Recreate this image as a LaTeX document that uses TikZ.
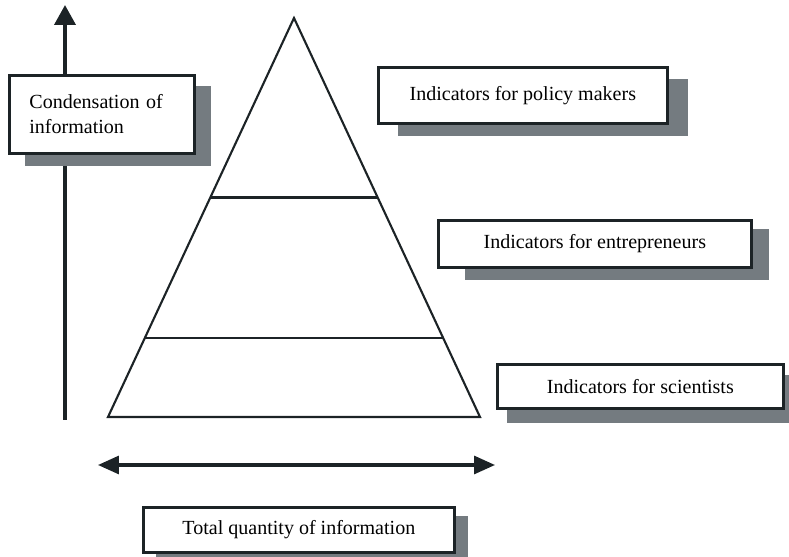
\documentclass[tikz,border=0pt]{standalone}
\usepackage{fontspec}
\setmainfont{Liberation Serif}
\usepackage{tikz}
\usetikzlibrary{arrows.meta,calc,backgrounds}
\definecolor{inkline}{HTML}{1C2326}
\definecolor{shadowgray}{HTML}{747B80}
\tikzstyle{infobox} = [draw=inkline, fill=white, line width=1.6pt,
    rectangle, inner sep=0pt, anchor=north west, font=\fontsize{11.4}{14.2}\selectfont]
\tikzstyle{boxshadow} = [fill=shadowgray]
\tikzstyle{pyramidline} = [draw=inkline, line width=1.2pt, line join=miter]
\tikzstyle{axisarrow} = [draw=inkline, line width=2.2pt]

\begin{document}
\begin{tikzpicture}[x=0.02cm, y=-0.02cm]
                \useasboundingbox (0,0) rectangle (789,557);
                % axes
                \coordinate (up0) at (65,420);
                \coordinate (up1) at (65,5);
                \coordinate (lr0) at (98,465);
                \coordinate (lr1) at (495,465);
                \begin{scope}[on background layer]
                    \draw[axisarrow, -{Triangle[length=0.4cm, width=0.42cm]}] (up0) -- (up1);
                \end{scope}
                \draw[axisarrow, line width=1.8pt, {Triangle[length=0.42cm, width=0.36cm]}-{Triangle[length=0.42cm, width=0.36cm]}] (lr0) -- (lr1);
                % pyramid
                \coordinate (apex) at (294,18);
                \coordinate (baseL) at (108,417);
                \coordinate (baseR) at (480,417);
                \draw[pyramidline] (apex) -- (baseL) -- (baseR) -- cycle;
                \draw[pyramidline, line width=1.7pt] ($(apex)!0.451!(baseL)$) -- ($(apex)!0.451!(baseR)$);
                \draw[pyramidline, line width=1.7pt] ($(apex)!0.802!(baseL)$) -- ($(apex)!0.802!(baseR)$);
                % boxes
                \node[infobox, minimum width=3.7cm, minimum height=1.56cm, align=left,
                      text width=3.7cm-0.8cm, inner xsep=0.4cm] (cond) at (8,74)
                      {Condensation of\\information};
                \node[infobox, minimum width=5.78cm, minimum height=1.12cm] (policy) at (377,66)
                      {Indicators for policy makers};
                \node[infobox, minimum width=6.26cm, minimum height=0.94cm] (entre) at (437,219)
                      {Indicators for entrepreneurs};
                \node[infobox, minimum width=5.72cm, minimum height=0.88cm] (scient) at (496,363)
                      {Indicators for scientists};
                \node[infobox, minimum width=6.22cm, minimum height=0.9cm] (total) at (142,506)
                      {Total quantity of information};
                \begin{scope}[on background layer]
                    \fill[boxshadow] ([shift={(17,12)}]cond.north west) rectangle ([shift={(15,11)}]cond.south east);
                    \fill[boxshadow] ([shift={(21,13)}]policy.north west) rectangle ([shift={(19,11)}]policy.south east);
                    \fill[boxshadow] ([shift={(28,10)}]entre.north west) rectangle ([shift={(16,11)}]entre.south east);
                    \fill[boxshadow] ([shift={(11,12)}]scient.north west) rectangle ([shift={(6,13)}]scient.south east);
                    \fill[boxshadow] ([shift={(14,10)}]total.north west) rectangle ([shift={(12,12)}]total.south east);
                \end{scope}
            \end{tikzpicture}
\end{document}
